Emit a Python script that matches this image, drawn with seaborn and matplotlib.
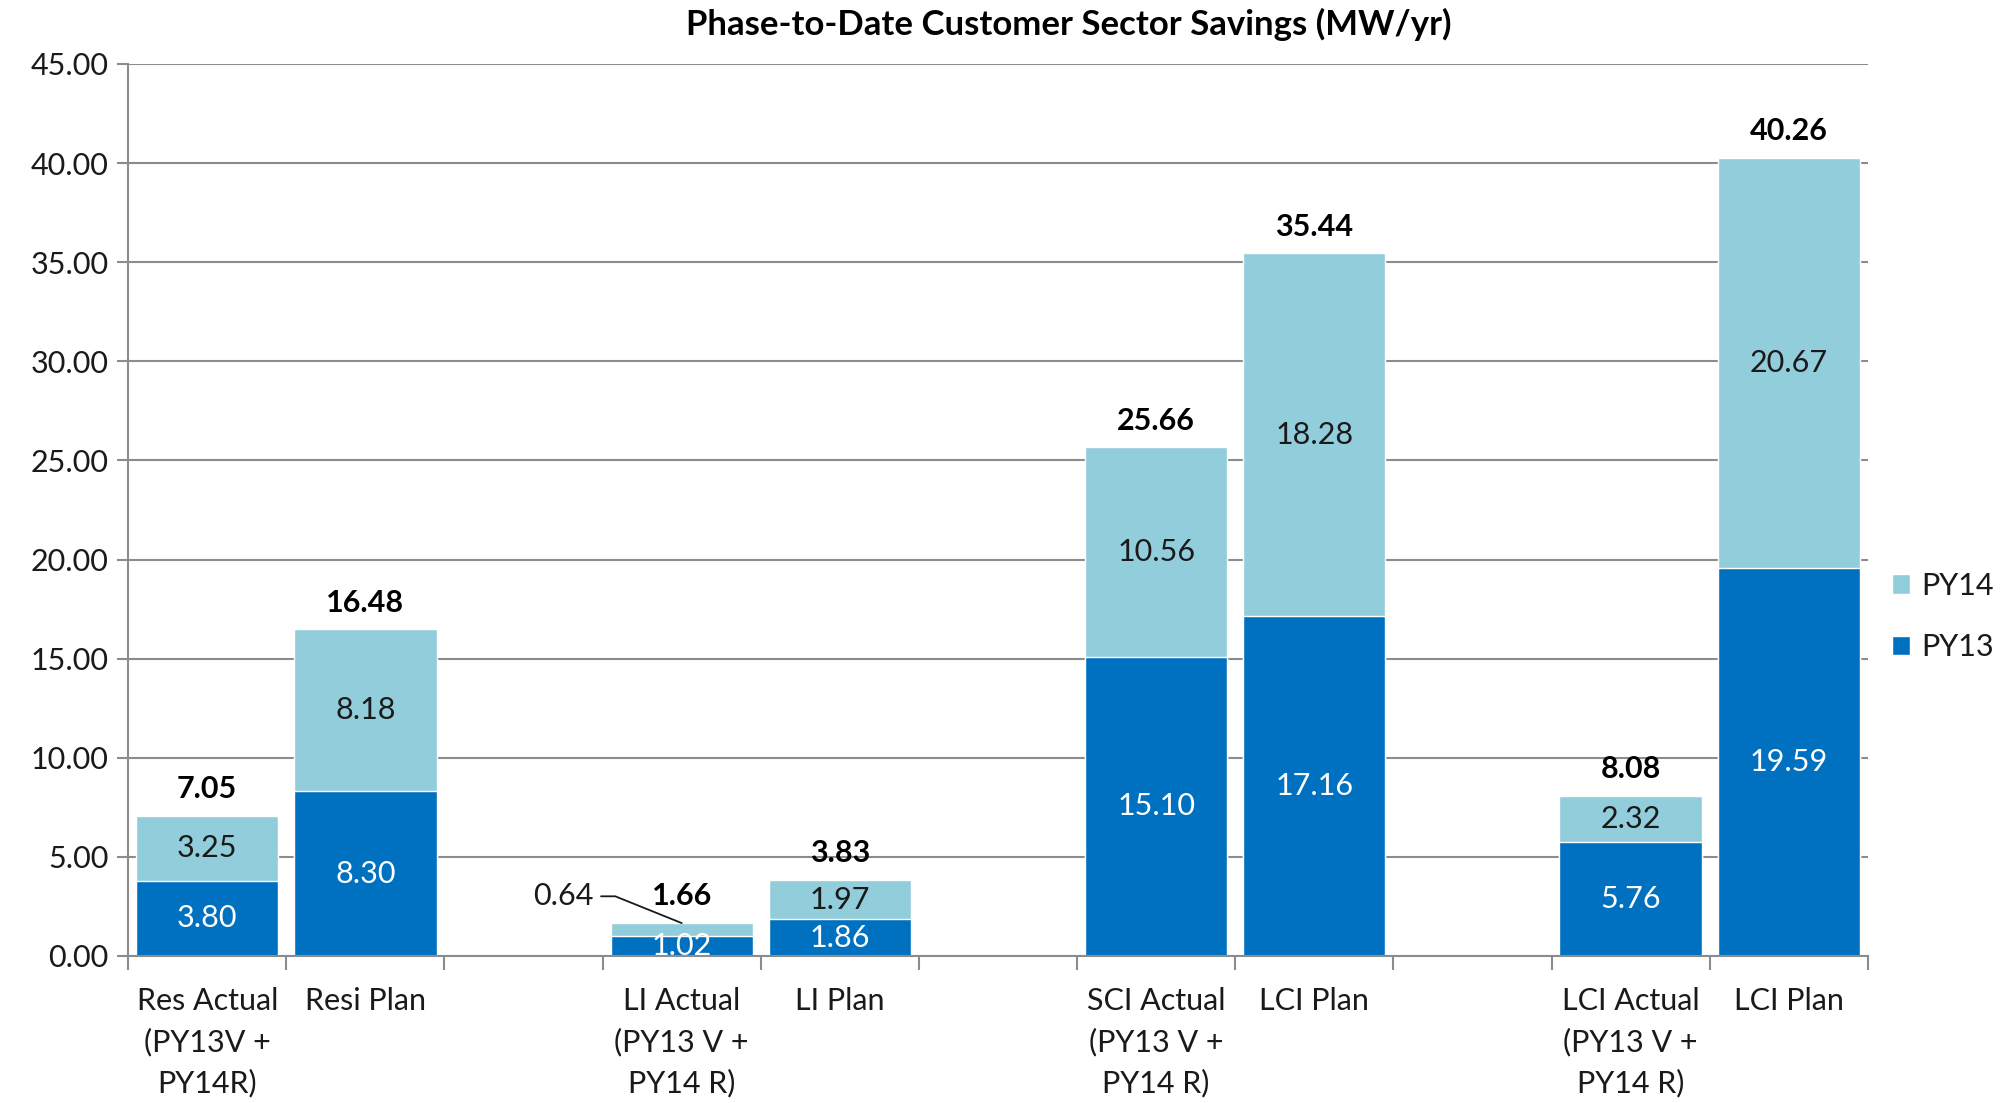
import matplotlib
matplotlib.use("Agg")
import matplotlib.pyplot as plt
from matplotlib.patches import Patch
import matplotlib.ticker as ticker
import pandas as pd
import seaborn as sns

# slots along the x axis (gapN = empty slot)
slots = ["res_act", "res_plan", "gap1", "li_act", "li_plan", "gap2",
         "sci_act", "lci_plan1", "gap3", "lci_act", "lci_plan2"]
tick_labels = ["Res Actual\n(PY13V +\nPY14R)", "Resi Plan", "",
               "LI Actual\n(PY13 V +\nPY14 R)", "LI Plan", "",
               "SCI Actual\n(PY13 V +\nPY14 R)", "LCI Plan", "",
               "LCI Actual\n(PY13 V +\nPY14 R)", "LCI Plan"]

bars = ["res_act", "res_plan", "li_act", "li_plan",
        "sci_act", "lci_plan1", "lci_act", "lci_plan2"]
py13 = [3.80, 8.30, 1.02, 1.86, 15.10, 17.16, 5.76, 19.59]
py14 = [3.25, 8.18, 0.64, 1.97, 10.56, 18.28, 2.32, 20.67]
totals = [7.05, 16.48, 1.66, 3.83, 25.66, 35.44, 8.08, 40.26]

c13 = "#0070C0"
c14 = "#92CDDC"
grid_c = "#8c8c8c"
txt_c = "#1a1a1a"
fs = 22

sns.set_theme(style="white")
plt.rcParams["font.family"] = ["Lato", "DejaVu Sans"]

df = pd.DataFrame({"slot": bars, "PY13": py13, "PY14": py14, "total": totals})

fig = plt.figure(figsize=(20.02, 11.03), dpi=100)
ax = fig.add_axes([0.064, 0.1333, 0.869, 0.8087])

sns.barplot(data=df, x="slot", y="total", order=slots, color=c14,
            saturation=1, width=0.9, ax=ax, zorder=3)
sns.barplot(data=df, x="slot", y="PY13", order=slots, color=c13,
            saturation=1, width=0.9, ax=ax, zorder=4)

ax.set_ylim(0, 45)
ax.set_xlim(-0.5, len(slots) - 0.5)
ax.yaxis.set_major_locator(ticker.MultipleLocator(5))
ax.yaxis.set_major_formatter(ticker.FormatStrFormatter("%.2f"))
ax.grid(axis="y", color=grid_c, linewidth=1.5, zorder=0)
ax.set_axisbelow(True)
for s in ["top", "right"]:
    ax.spines[s].set_visible(False)
for s in ["left", "bottom"]:
    ax.spines[s].set_color(grid_c)
    ax.spines[s].set_linewidth(1.5)
    ax.spines[s].set_zorder(5)

ax.set_xticks(range(len(slots)))
ax.set_xticklabels(tick_labels, fontsize=fs, color=txt_c, linespacing=1.55,
                   va="top")
ax.set_xticks([i - 0.5 for i in range(len(slots) + 1)], minor=True)
ax.tick_params(axis="x", which="major", length=0, pad=22)
ax.tick_params(axis="x", which="minor", length=10, width=1.5, color=grid_c,
               direction="out", bottom=True)
ax.tick_params(axis="y", length=8, width=1.5, color=grid_c, direction="out",
               left=True, labelsize=fs, labelcolor=txt_c, pad=6)
ax.set_xlabel("")
ax.set_ylabel("")

# data labels
for s, a, b, t in zip(bars, py13, py14, totals):
    x = slots.index(s)
    ax.text(x, a / 2, f"{a:.2f}", ha="center", va="center", color="white",
            fontsize=fs, zorder=6)
    if s != "li_act":
        ax.text(x, a + b / 2, f"{b:.2f}", ha="center", va="center",
                color=txt_c, fontsize=fs, zorder=6)
    ax.text(x, t + 1.35, f"{t:.2f}", ha="center", va="center", color="black",
            fontsize=fs, fontweight="bold", zorder=6)

# small segment label with leader line
i = bars.index("li_act")
x = slots.index("li_act")
ax.plot([x - 0.51, x - 0.42, x], [totals[i] + 1.35, totals[i] + 1.35, totals[i]],
        color=txt_c, linewidth=1.3, zorder=6, clip_on=False)
ax.text(x - 0.56, totals[i] + 1.35, f"{py14[i]:.2f}", ha="right", va="center",
        color=txt_c, fontsize=fs, zorder=6)

fig.text(0.534, 0.978, "Phase-to-Date Customer Sector Savings (MW/yr)",
         ha="center", va="center", fontsize=25, fontweight="bold", color="black")

handles = [Patch(facecolor=c14, label="PY14"), Patch(facecolor=c13, label="PY13")]
fig.legend(handles=handles, loc="center left", bbox_to_anchor=(0.945, 0.441),
           frameon=False, fontsize=fs, handlelength=0.6, handleheight=0.6,
           handletextpad=0.35, labelspacing=1.1, labelcolor=txt_c,
           borderpad=0, borderaxespad=0)

fig.savefig("out.png", dpi=100)
